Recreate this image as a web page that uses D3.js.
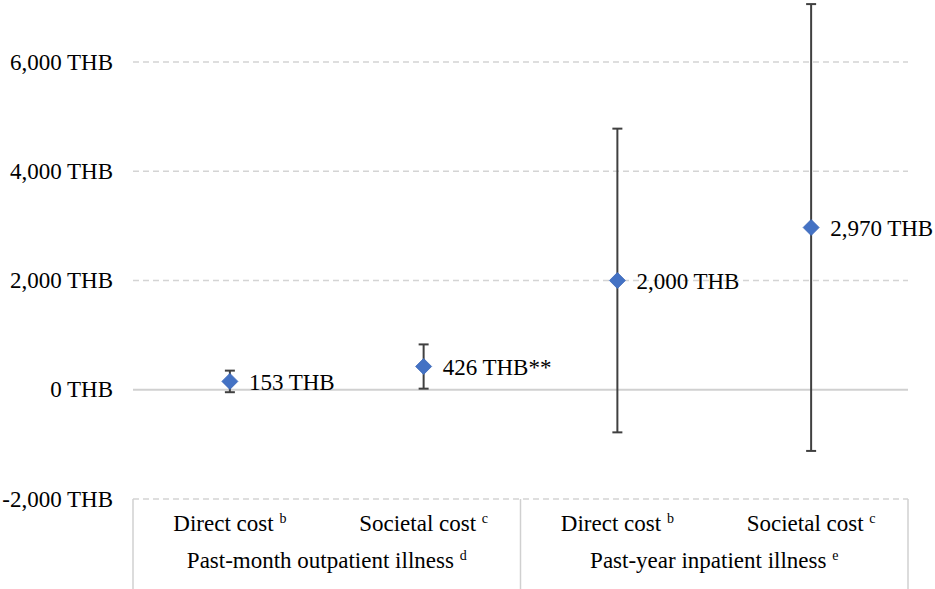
<!DOCTYPE html>
<html><head><meta charset="utf-8">
<script src="https://cdn.jsdelivr.net/npm/d3@7/dist/d3.min.js"></script>
<style>html,body{margin:0;padding:0;background:#fff;}svg{display:block;} text{font-family:"Liberation Serif","Times New Roman",serif;}</style>
</head><body>
<svg id="chart" width="935" height="589"></svg>
<script>
const categories = ["Direct cost", "Societal cost", "Direct cost", "Societal cost"];
const categorySup = ["b", "c", "b", "c"];
const groups = ["Past-month outpatient illness", "Past-year inpatient illness"];
const groupSup = ["d", "e"];
const values = [153, 426, 2000, 2970];
const lower = [-45, 20, -780, -1120];
const upper = [350, 830, 4780, 7060];
const pointLabels = ["153 THB", "426 THB**", "2,000 THB", "2,970 THB"];
const yTicks = [-2000, 0, 2000, 4000, 6000];
const yTickLabels = ["-2,000 THB", "0 THB", "2,000 THB", "4,000 THB", "6,000 THB"];

const W = 935, H = 589;
const left = 133, right = 908;
const svg = d3.select("#chart");
const FS = "23px";

const y = d3.scaleLinear().domain([-2000, 6000]).range([499, 62]);
const x = d3.scaleBand().domain(d3.range(categories.length)).range([left, right]);
const xg = d3.scaleBand().domain(groups).range([left, right]);

// gridlines
svg.append("g").selectAll("line").data(yTicks.filter(t => t !== 0)).join("line")
  .attr("x1", left).attr("x2", right)
  .attr("y1", d => y(d)).attr("y2", d => y(d))
  .attr("stroke", "#d4d4d4").attr("stroke-width", 1.5).attr("stroke-dasharray", "6,4");

// zero axis line
svg.append("line").attr("x1", left).attr("x2", right)
  .attr("y1", y(0)).attr("y2", y(0))
  .attr("stroke", "#d0d0d0").attr("stroke-width", 2);

// y tick labels
svg.append("g").selectAll("text").data(yTicks).join("text")
  .attr("x", 113).attr("y", d => y(d))
  .attr("text-anchor", "end").attr("dominant-baseline", "central")
  .style("font-size", FS).attr("fill", "#000")
  .text((d, i) => yTickLabels[i]);

// category separators below axis
const sepX = [left].concat(groups.map(g => xg(g) + xg.bandwidth()));
svg.append("g").selectAll("line").data(sepX).join("line")
  .attr("x1", d => d).attr("x2", d => d)
  .attr("y1", y(-2000)).attr("y2", H)
  .attr("stroke", "#d0d0d0").attr("stroke-width", 1.5);

// category labels
const catT = svg.append("g").selectAll("text").data(categories).join("text")
  .attr("x", (d, i) => x(i) + x.bandwidth() / 2).attr("y", 531)
  .attr("text-anchor", "middle")
  .style("font-size", FS).attr("fill", "#000");
catT.append("tspan").text(d => d + " ");
catT.append("tspan").style("font-size", "14px").attr("dy", -8).text((d, i) => categorySup[i]);

// group labels
const grpT = svg.append("g").selectAll("text").data(groups).join("text")
  .attr("x", d => xg(d) + xg.bandwidth() / 2).attr("y", 568)
  .attr("text-anchor", "middle")
  .style("font-size", FS).attr("fill", "#000");
grpT.append("tspan").text(d => d + " ");
grpT.append("tspan").style("font-size", "14px").attr("dy", -8).text((d, i) => groupSup[i]);

// error bars
const cx = i => x(i) + x.bandwidth() / 2;
const eb = svg.append("g").attr("stroke", "#404040").attr("stroke-width", 2);
values.forEach((v, i) => {
  eb.append("line").attr("x1", cx(i)).attr("x2", cx(i)).attr("y1", y(lower[i])).attr("y2", y(upper[i]));
  eb.append("line").attr("x1", cx(i) - 5).attr("x2", cx(i) + 5).attr("y1", y(lower[i])).attr("y2", y(lower[i]));
  eb.append("line").attr("x1", cx(i) - 5).attr("x2", cx(i) + 5).attr("y1", y(upper[i])).attr("y2", y(upper[i]));
});

// diamonds
svg.append("g").selectAll("path").data(values).join("path")
  .attr("d", (d, i) => {
    const px = cx(i), py = y(d), r = 8;
    return `M${px},${py - r}L${px + r},${py}L${px},${py + r}L${px - r},${py}Z`;
  })
  .attr("fill", "#4472C4").attr("stroke", "#3a66b8").attr("stroke-width", 0.8);

// point labels
svg.append("g").selectAll("text").data(values).join("text")
  .attr("x", (d, i) => cx(i) + 19).attr("y", d => y(d) + 1)
  .attr("dominant-baseline", "central")
  .style("font-size", FS).attr("fill", "#000")
  .text((d, i) => pointLabels[i]);
</script>
</body></html>
